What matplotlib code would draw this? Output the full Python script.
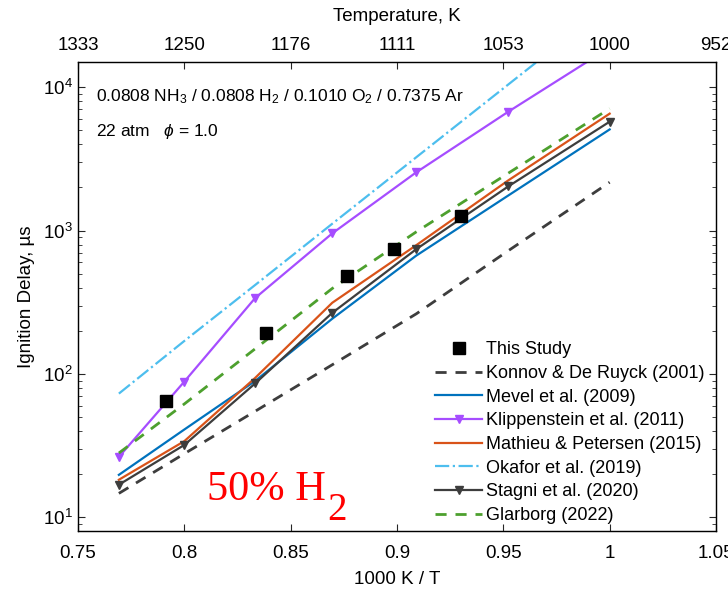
import matplotlib
matplotlib.use("Agg")
import matplotlib.pyplot as plt
import numpy as np

plt.rcParams["font.family"] = ["Liberation Sans", "DejaVu Sans"]
plt.rcParams["mathtext.fontset"] = "custom"
plt.rcParams["mathtext.rm"] = "Liberation Sans"
plt.rcParams["mathtext.it"] = "Liberation Sans:italic"

# model temperatures 1300 ... 1000 K, as 1000/T
inv_T = [1000 / 1300, 0.8, 1000 / 1200, 1000 / 1150, 1000 / 1100, 1000 / 1050, 1.0]

konnov = [14.7, 27.8, 55, 116, 263, 725, 2175]
mevel = [19.8, 41, 89.5, 243, 670, 1760, 5080]
klippenstein = [26.4, 88.5, 339, 957, 2553, 6760, 18900]
mathieu = [18.3, 34, 94, 314, 792, 2244, 6545]
okafor = [73, 170, 418, 1117, 3252, 10470, 37900]
stagni = [16.9, 32, 86, 267, 743, 2037, 5754]
glarborg = [28.1, 61.8, 150, 395, 981, 2518, 7100]

exp_x = [0.7914, 0.8384, 0.8765, 0.8986, 0.9302]
exp_tau = [64.4, 192, 483, 743, 1274]

x_ticks = [0.75, 0.8, 0.85, 0.9, 0.95, 1.0, 1.05]
x_tick_labels = ["0.75", "0.8", "0.85", "0.9", "0.95", "1", "1.05"]
temp_labels = ["1333", "1250", "1176", "1111", "1053", "1000", "952"]

fig = plt.figure(figsize=(7.28, 5.89), dpi=100)
ax = fig.add_axes([0.1071, 0.098, 0.8764, 0.7967])

ax.plot(exp_x, exp_tau, "s", color="black", markersize=8, label="This Study", zorder=5)
ax.plot(inv_T, konnov, "--", color="#3d3d3d", lw=2, dashes=(4, 3.2),
        label="Konnov & De Ruyck (2001)")
ax.plot(inv_T, mevel, "-", color="#0072BD", lw=1.6, label="Mevel et al. (2009)")
ax.plot(inv_T, klippenstein, "-v", color="#A64DFF", lw=1.6, markersize=6,
        label="Klippenstein et al. (2011)")
ax.plot(inv_T, mathieu, "-", color="#D95319", lw=1.6, label="Mathieu & Petersen (2015)")
ax.plot(inv_T, okafor, "-.", color="#4DBEEE", lw=1.6, label="Okafor et al. (2019)")
ax.plot(inv_T, stagni, "-v", color="#3d3d3d", lw=1.6, markersize=6,
        label="Stagni et al. (2020)")
ax.plot(inv_T, glarborg, "--", color="#4DA02E", lw=2, dashes=(4, 3.2),
        label="Glarborg (2022)")

ax.set_yscale("log")
ax.set_xlim(0.75, 1.05)
ax.set_ylim(8, 1.5e4)
ax.set_xticks(x_ticks)
ax.set_xticklabels(x_tick_labels)
ax.tick_params(which="both", direction="in", right=True, labelsize=13.5,
               colors="#262626", labelcolor="black")
ax.tick_params(which="major", length=5)
ax.tick_params(which="minor", length=3)
ax.tick_params(axis="x", pad=10)
for sp in ax.spines.values():
    sp.set_color("#262626")
    sp.set_linewidth(1.0)

ax.set_xlabel("1000 K / T", fontsize=13.5, labelpad=6)
ax.set_ylabel("Ignition Delay, µs", fontsize=13.5, labelpad=6)

top = ax.twiny()
top.set_xlim(ax.get_xlim())
top.set_xticks(x_ticks)
top.set_xticklabels(temp_labels)
top.tick_params(direction="in", length=5, labelsize=13.5, colors="#262626",
                labelcolor="black", pad=6)
top.set_xlabel("Temperature, K", fontsize=13.5, labelpad=11)

ax.text(0.029, 0.927, r"0.0808 NH$_3$ / 0.0808 H$_2$ / 0.1010 O$_2$ / 0.7375 Ar",
        transform=ax.transAxes, fontsize=12.5, va="center")
ax.text(0.029, 0.852, r"22 atm   $\phi$ = 1.0", transform=ax.transAxes,
        fontsize=12.5, va="center")

lbl = ax.text(0.202, 0.067, "50% H", transform=ax.transAxes, color="red",
              fontsize=30.5, family="Liberation Serif", va="baseline")
ax.annotate("2", xy=(1.0, 0.0), xycoords=lbl, xytext=(1, -8),
            textcoords="offset points", color="red", fontsize=28,
            family="Liberation Serif", va="baseline")

ax.legend(loc="lower right", frameon=False, fontsize=13, handlelength=2.6,
          handletextpad=0.2, labelspacing=0.37, borderaxespad=0.0,
          bbox_to_anchor=(0.993, 0.0))

fig.savefig("out.png", dpi=100)
